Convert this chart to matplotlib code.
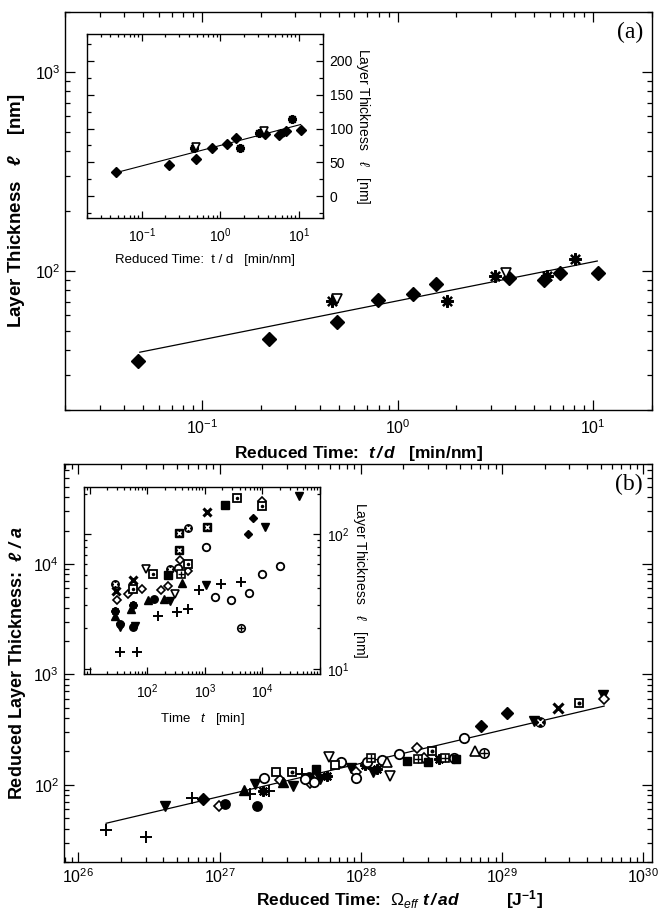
import numpy as np
import matplotlib
matplotlib.use('Agg')
import matplotlib.pyplot as plt
from matplotlib.ticker import LogLocator, FixedLocator, NullFormatter, LogFormatterSciNotation

plt.rcParams['font.family'] = ['Liberation Sans', 'DejaVu Sans']
plt.rcParams['mathtext.fontset'] = 'custom'
plt.rcParams['mathtext.rm'] = 'Liberation Sans'
plt.rcParams['mathtext.it'] = 'Liberation Sans:italic'
plt.rcParams['mathtext.bf'] = 'Liberation Sans:bold'
plt.rcParams['mathtext.bfit'] = 'Liberation Sans:italic:bold'
plt.rcParams['axes.unicode_minus'] = False

# ---- panel (a): layer thickness vs reduced time t/d [min/nm]
a_dia_x = [0.047, 0.22, 0.49, 0.79, 1.2, 1.57, 3.72, 5.58, 6.77, 10.6]
a_dia_y = [35.1, 45.5, 55.2, 71.6, 76.5, 85.8, 92.0, 89.9, 97.0, 97.7]
a_ast_x = [0.46, 1.79, 3.13, 5.84, 8.05]
a_ast_y = [70.5, 70.5, 94.0, 94.0, 114.8]
a_tri_x = [0.49, 3.6]
a_tri_y = [72.4, 97.0]
a_fit_x = [0.048, 10.5]
a_fit_y = [39.0, 112.0]
a_inset_fit_y = [35.0, 106.0]

# ---- panel (b) main: reduced layer thickness l/a vs reduced time
b_plus_x = [1.57e26, 3.03e26, 6.35e26, 1.63e27, 2.25e27, 3.83e27]
b_plus_y = [38.7, 33.7, 75.7, 82.2, 86.9, 125]
b_vfill_x = [4.08e26, 1.77e27, 3.29e27, 5.15e27, 1.22e28, 1.69e29, 8.5e27, 5.2e29]
b_vfill_y = [64.4, 101, 96.6, 112, 131, 377, 142, 650]
b_dfill_x = [7.6e26, 7.11e28, 1.08e29]
b_dfill_y = [74.1, 339, 449]
b_dopen_x = [9.95e26, 2.67e27, 4.34e27, 2.49e28, 5.28e29, 9.3e27, 2.8e28]
b_dopen_y = [64.0, 111, 103, 215, 601, 130, 175]
b_cfill_x = [1.09e27, 1.83e27, 4.3e27]
b_cfill_y = [67.6, 64.0, 117]
b_tfill_x = [1.49e27, 2.82e27]
b_tfill_y = [90.2, 106]
b_ast_x = [2.03e27, 5.71e27, 1.31e28, 1.07e28, 3.6e28]
b_ast_y = [88.1, 121, 139, 150, 171]
b_copen_x = [2.06e27, 4.65e27, 7.28e27, 9.27e27, 1.40e28, 1.85e28, 4.54e28, 5.4e28, 4.0e27, 1.1e28]
b_copen_y = [114, 105, 162, 114, 167, 190, 173, 265, 112, 160]
b_sopen_x = [2.49e27, 6.56e27]
b_sopen_y = [131, 152]
b_sdot_x = [3.24e27, 3.21e28, 3.49e29]
b_sdot_y = [131, 200, 552]
b_sfill_x = [4.81e27, 3.0e28, 2.12e28, 4.7e28]
b_sfill_y = [139, 160, 163, 172]
b_vopen_x = [5.92e27, 1.61e28]
b_vopen_y = [177, 121]
b_splus_x = [1.18e28, 2.52e28, 3.95e28]
b_splus_y = [173, 171, 176]
b_topen_x = [1.53e28, 6.41e28]
b_topen_y = [162, 201]
b_oplus_x = [7.46e28]
b_oplus_y = [194]
b_otimes_x = [1.87e29]
b_otimes_y = [369]
b_cross_x = [2.47e29]
b_cross_y = [494]
b_fit_x = [1.57e26, 5.28e29]
b_fit_y = [44.8, 515]

# ---- panel (b) inset: layer thickness [nm] vs time t [min]
i_otimes_x = [27.5, 246, 503]
i_otimes_y = [42.4, 55.5, 111]
i_cross_x = [28.6, 56, 1090]
i_cross_y = [37.8, 45.5, 146]
i_dopen_x = [29.5, 45.8, 82, 170, 230, 370, 517, 9800]
i_dopen_y = [32.3, 36.1, 39.4, 38.3, 41, 64.7, 53.4, 177]
i_ast_x = [27.5, 56]
i_ast_y = [26.9, 30]
i_tfill_x = [27.5, 51, 103, 196, 395]
i_tfill_y = [24.6, 27.8, 32.3, 33, 43.4]
i_cfill_x = [33.9, 56, 131]
i_cfill_y = [21.6, 20.4, 33]
i_vfill_x = [33.9, 60, 243, 1040, 1.12e4, 4.4e4]
i_vfill_y = [20.4, 21, 32, 41.7, 113, 193]
i_plus_x = [34, 66.8, 154, 327, 503, 775, 1940, 4300]
i_plus_y = [13.3, 13.3, 24.7, 26.4, 28, 38.3, 42.4, 44.2]
i_sdot_x = [56, 125, 517, 3640, 9800]
i_sdot_y = [39.4, 50.4, 59.8, 186, 162]
i_vopen_x = [94, 300]
i_vopen_y = [55.5, 36]
i_sfill_x = [224, 2210]
i_sfill_y = [49.5, 164]
i_copen_x = [345, 1050, 1480, 2900, 5850, 9800, 2e4]
i_copen_y = [56, 80.5, 34.1, 32.8, 36.8, 50.9, 57.8]
i_splus_x = [385]
i_splus_y = [50.4]
i_sx_x = [355, 355, 1090]
i_sx_y = [102, 76, 114]
i_dfill_x = [6900, 5600]
i_dfill_y = [132, 100]
i_oplus_x = [4300]
i_oplus_y = [20.1]

# marker look: list of layers (marker, facecolor, size factor, edge width)
STYLE = {
    'plus':   [('+', 'k', 1.1, 1.4)],
    'cross':  [('x', 'k', 0.9, 2.2)],
    'ast':    [((8, 2, 0), 'k', 1.0, 1.6)],
    'dfill':  [('D', 'k', 0.75, 1.0)],
    'dopen':  [('D', 'w', 0.7, 1.2)],
    'cfill':  [('o', 'k', 0.9, 1.0)],
    'copen':  [('o', 'w', 0.9, 1.3)],
    'tfill':  [('^', 'k', 0.9, 1.0)],
    'topen':  [('^', 'w', 0.9, 1.2)],
    'vfill':  [('v', 'k', 0.9, 1.0)],
    'vopen':  [('v', 'w', 0.9, 1.2)],
    'sopen':  [('s', 'w', 0.85, 1.3)],
    'sfill':  [('s', 'k', 0.85, 1.0)],
    'sdot':   [('s', 'w', 0.85, 1.3), ('.', 'k', 0.5, 1.0)],
    'splus':  [('s', 'w', 0.85, 1.2), ('+', 'k', 0.75, 1.0)],
    'sx':     [('s', 'k', 0.85, 1.0), ('x', 'w', 0.55, 1.0)],
    'oplus':  [('o', 'w', 0.9, 1.2), ('+', 'k', 0.8, 1.0)],
    'otimes': [('o', 'k', 0.9, 1.0), ('x', 'w', 0.55, 1.0)],
}


def draw(ax, x, y, kind, ms):
    for m, fc, f, mew in STYLE[kind]:
        ec = 'w' if (m == 'x' and fc == 'w') else 'k'
        ax.plot(x, y, ls='none', marker=m, ms=ms * f, mfc=fc, mec=ec, mew=mew, zorder=3)


def style_log(ax, labsize):
    ax.tick_params(which='both', direction='in', top=True, right=True, labelsize=labsize, width=0.9)
    ax.tick_params(which='major', length=7)
    ax.tick_params(which='minor', length=3.5)
    for s in ax.spines.values():
        s.set_linewidth(1.0)


fig = plt.figure(figsize=(6.62, 9.13), dpi=100)

# ================= panel (a)
ax_a = fig.add_axes([0.0989, 0.551, 0.886, 0.436])
ax_a.set_xscale('log')
ax_a.set_yscale('log')
ax_a.set_xlim(0.02, 20)
ax_a.set_ylim(20, 2000)
draw(ax_a, a_dia_x, a_dia_y, 'dfill', 9)
draw(ax_a, a_ast_x, a_ast_y, 'ast', 9)
draw(ax_a, a_tri_x, a_tri_y, 'vopen', 8)
ax_a.plot(a_fit_x, a_fit_y, color='k', lw=0.9)
style_log(ax_a, 11.5)
ax_a.xaxis.set_major_locator(FixedLocator([0.1, 1, 10]))
ax_a.yaxis.set_major_locator(FixedLocator([100, 1000]))
ax_a.yaxis.set_major_formatter(LogFormatterSciNotation())
ax_a.xaxis.set_major_formatter(LogFormatterSciNotation())
ax_a.tick_params(axis='x', pad=6)
ax_a.set_xlabel(r'Reduced Time:  $\mathbfit{t\,/\,d}$   [min/nm]', fontsize=12.5,
                fontweight='bold', labelpad=5)
ax_a.set_ylabel(r'Layer Thickness   $\mathbfit{\ell}$    [nm]', fontsize=13.5,
                fontweight='bold', labelpad=6)
ax_a.text(0.985, 0.975, '(a)', transform=ax_a.transAxes, ha='right', va='top',
          fontsize=17, family='Liberation Serif')

# inset (a)
ia = fig.add_axes([0.131, 0.7615, 0.3565, 0.2013])
ia.set_xscale('log')
ia.set_xlim(0.02, 20)
ia.set_ylim(-32, 240)
draw(ia, a_dia_x, a_dia_y, 'dfill', 7)
draw(ia, a_ast_x, a_ast_y, 'ast', 6.5)
draw(ia, a_tri_x, a_tri_y, 'vopen', 6)
ia.plot(a_fit_x, a_inset_fit_y, color='k', lw=0.8)
style_log(ia, 10)
ia.tick_params(which='both', labelleft=False, labelright=True)
ia.xaxis.set_major_locator(FixedLocator([0.1, 1, 10]))
ia.xaxis.set_major_formatter(LogFormatterSciNotation())
ia.yaxis.set_major_locator(FixedLocator([0, 50, 100, 150, 200]))
ia.yaxis.set_minor_locator(FixedLocator([-25, 25, 75, 125, 175, 225]))
ia.tick_params(axis='y', which='major', length=5, pad=5)
ia.tick_params(axis='y', which='minor', length=3)
ia.tick_params(axis='x', which='major', length=5, pad=6)
ia.tick_params(axis='x', which='minor', length=2.5)
ia.set_xlabel('Reduced Time:  t / d   [min/nm]', fontsize=9.5, labelpad=7)
ia.yaxis.set_label_position('right')
ia.set_ylabel(r'Layer Thickness   $\ell$   [nm]', fontsize=10, rotation=270, labelpad=14)

# ================= panel (b)
ax_b = fig.add_axes([0.0967, 0.0559, 0.888, 0.4359])
ax_b.set_xscale('log')
ax_b.set_yscale('log')
ax_b.set_xlim(7.9e25, 1.15e30)
ax_b.set_ylim(20, 8e4)
ms_b = 7.5
draw(ax_b, b_plus_x, b_plus_y, 'plus', ms_b)
draw(ax_b, b_vfill_x, b_vfill_y, 'vfill', ms_b)
draw(ax_b, b_dfill_x, b_dfill_y, 'dfill', ms_b)
draw(ax_b, b_dopen_x, b_dopen_y, 'dopen', ms_b)
draw(ax_b, b_cfill_x, b_cfill_y, 'cfill', ms_b)
draw(ax_b, b_tfill_x, b_tfill_y, 'tfill', ms_b)
draw(ax_b, b_ast_x, b_ast_y, 'ast', ms_b)
draw(ax_b, b_copen_x, b_copen_y, 'copen', ms_b)
draw(ax_b, b_sopen_x, b_sopen_y, 'sopen', ms_b)
draw(ax_b, b_sdot_x, b_sdot_y, 'sdot', ms_b)
draw(ax_b, b_sfill_x, b_sfill_y, 'sfill', ms_b)
draw(ax_b, b_vopen_x, b_vopen_y, 'vopen', ms_b)
draw(ax_b, b_splus_x, b_splus_y, 'splus', ms_b)
draw(ax_b, b_topen_x, b_topen_y, 'topen', ms_b)
draw(ax_b, b_oplus_x, b_oplus_y, 'oplus', ms_b)
draw(ax_b, b_otimes_x, b_otimes_y, 'otimes', ms_b)
draw(ax_b, b_cross_x, b_cross_y, 'cross', ms_b)
ax_b.plot(b_fit_x, b_fit_y, color='k', lw=0.9)
style_log(ax_b, 11.5)
ax_b.xaxis.set_major_locator(FixedLocator([1e26, 1e27, 1e28, 1e29, 1e30]))
ax_b.xaxis.set_minor_locator(LogLocator(base=10, subs=np.arange(2, 10), numticks=20))
ax_b.xaxis.set_minor_formatter(NullFormatter())
ax_b.yaxis.set_major_locator(FixedLocator([1e2, 1e3, 1e4]))
ax_b.tick_params(axis='x', pad=4)
ax_b.set_xlabel(r'Reduced Time:  $\mathit{\Omega_{eff}}$ $\mathbfit{t\,/\,ad}$          [J$^{\mathbf{-1}}$]',
                fontsize=12.5, fontweight='bold', labelpad=1.5, x=0.57)
ax_b.set_ylabel(r'Reduced Layer Thickness:  $\mathbfit{\ell\ /\ a}$', fontsize=13,
                fontweight='bold', labelpad=4)
ax_b.text(0.985, 0.975, '(b)', transform=ax_b.transAxes, ha='right', va='top',
          fontsize=17, family='Liberation Serif')

# inset (b)
ib = fig.add_axes([0.1273, 0.2618, 0.356, 0.2051])
ib.set_xscale('log')
ib.set_yscale('log')
ib.set_xlim(8, 1e5)
ib.set_ylim(9.2, 225)
ms_i = 6
draw(ib, i_otimes_x, i_otimes_y, 'otimes', ms_i)
draw(ib, i_cross_x, i_cross_y, 'cross', ms_i)
draw(ib, i_dopen_x, i_dopen_y, 'dopen', ms_i)
draw(ib, i_ast_x, i_ast_y, 'ast', ms_i)
draw(ib, i_tfill_x, i_tfill_y, 'tfill', ms_i)
draw(ib, i_cfill_x, i_cfill_y, 'cfill', ms_i)
draw(ib, i_vfill_x, i_vfill_y, 'vfill', ms_i)
draw(ib, i_plus_x, i_plus_y, 'plus', ms_i)
draw(ib, i_sdot_x, i_sdot_y, 'sdot', ms_i)
draw(ib, i_vopen_x, i_vopen_y, 'vopen', ms_i)
draw(ib, i_sfill_x, i_sfill_y, 'sfill', ms_i)
draw(ib, i_copen_x, i_copen_y, 'copen', ms_i)
draw(ib, i_splus_x, i_splus_y, 'splus', ms_i)
draw(ib, i_sx_x, i_sx_y, 'sx', ms_i)
draw(ib, i_dfill_x, i_dfill_y, 'dfill', ms_i)
draw(ib, i_oplus_x, i_oplus_y, 'oplus', ms_i)
style_log(ib, 10)
ib.tick_params(which='both', labelleft=False, labelright=True)
ib.xaxis.set_major_locator(FixedLocator([1e1, 1e2, 1e3, 1e4, 1e5]))
ib.xaxis.set_major_formatter(plt.FuncFormatter(
    lambda v, p: '' if v < 50 or v > 5e4 else LogFormatterSciNotation()(v, p)))
ib.yaxis.set_major_locator(FixedLocator([10, 100]))
ib.tick_params(which='major', length=5)
ib.tick_params(which='minor', length=2.5)
ib.tick_params(axis='x', pad=6)
ib.tick_params(axis='y', pad=5)
ib.set_xlabel(r'Time   $t$   [min]', fontsize=9.5, labelpad=7)
ib.yaxis.set_label_position('right')
ib.set_ylabel(r'Layer Thickness   $\ell$   [nm]', fontsize=10, rotation=270, labelpad=14)

fig.savefig('out.png', dpi=100)
